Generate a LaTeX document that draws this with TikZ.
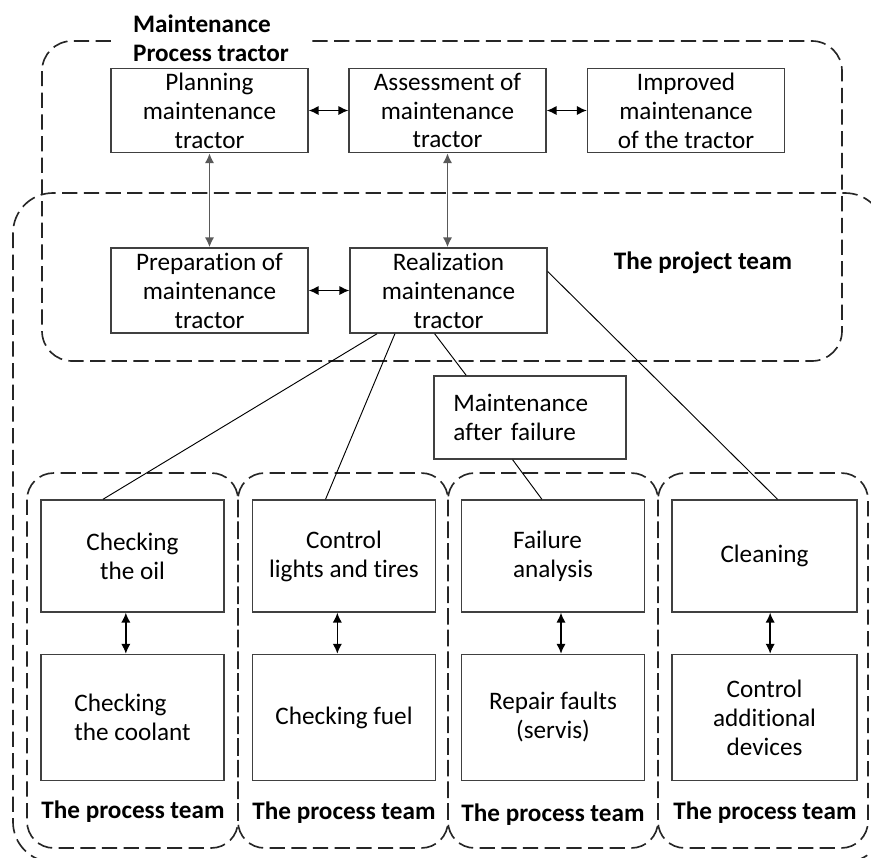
\documentclass[tikz,border=0pt]{standalone}
\usepackage{fontspec}
\setmainfont{Carlito}[Ligatures=NoCommon]
\usetikzlibrary{positioning,calc,arrows.meta}

\newcommand{\diagfont}{\fontsize{21.5}{24.7}\selectfont}

\tikzset{
  box/.style={draw=black!75, line width=1.2pt, fill=white, align=center, inner sep=0pt},
  stage/.style={box, minimum width=5.91cm, minimum height=2.52cm},
  task/.style={box, minimum width=5.5cm, minimum height=3.36cm},
  subtask/.style={box, minimum width=5.5cm, minimum height=3.78cm},
  team/.style={draw=black!85, line width=1.4pt, dash pattern=on 13pt off 5.5pt},
  teamlabel/.style={font=\diagfont\bfseries, inner sep=0pt},
  both/.style={{Latex[length=8.5pt,width=8pt]}-{Latex[length=8.5pt,width=8pt]}, line width=1.2pt},
  link/.style={line width=0.8pt}
}

\begin{document}
\begin{tikzpicture}[x=0.03cm, y=-0.03cm, font=\diagfont]
\useasboundingbox (0,0) rectangle (871,857);

% dashed groups
\begin{scope}
  \clip (0,0) rectangle (871,857);
  \draw[team, rounded corners=1.2cm] (13,193) rectangle (885,862);
\end{scope}
\draw[team, rounded corners=0.9cm] (42,41) rectangle (842,361);
\draw[team, rounded corners=0.8cm] (27,473) rectangle (238,848);
\draw[team, rounded corners=0.8cm] (238,473) rectangle (448,848);
\draw[team, rounded corners=0.8cm] (448,473) rectangle (658,848);
\draw[team, rounded corners=0.8cm] (658,473) rectangle (868,848);

% project level
\node[stage] (plan) at (209.5,110.5) {Planning\\maintenance\\tractor};
\node[stage] (assess) at (447.5,110.5) {Assessment of\\maintenance\\tractor};
\node[stage] (improve) at (686,110.5) {Improved\\maintenance\\of the tractor};
\node[stage, minimum height=2.55cm] (prep) at (209.5,290.5) {Preparation of\\maintenance\\tractor};
\node[stage, minimum height=2.55cm] (real) at (448.5,290.5) {Realization\\maintenance\\tractor};
\node[box, minimum width=5.76cm, minimum height=2.49cm, text width=4.6cm, align=left] (after) at (530,417.5) {Maintenance\\after failure};

% process level
\node[task] (oil) at (132.5,556) {Checking\\the oil};
\node[subtask, below=1.23cm of oil, align=left] (cool) {Checking\\the coolant};
\node[task] (lights) at (344,556) {Control\\lights and tires};
\node[subtask, below=1.23cm of lights] (fuel) {Checking fuel};
\node[task, align=left] (fail) at (553,556) {Failure\\analysis};
\node[subtask, below=1.23cm of fail] (repair) {Repair faults\\(servis)};
\node[task, minimum width=5.55cm] (clean) at (764.5,556) {Cleaning};
\node[subtask, minimum width=5.55cm, below=1.23cm of clean] (devices) {Control\\additional\\devices};

% labels
\node[teamlabel, fill=white, inner xsep=0.55cm, inner ysep=0.05cm, align=left] (title) at (211,38) {Maintenance\\Process tractor};
\node[teamlabel] (project) at (703,263) {The project team};
\node[teamlabel] (team1) at (133,812) {The process team};
\node[teamlabel] (team2) at (344,813) {The process team};
\node[teamlabel] (team3) at (553,815) {The process team};
\node[teamlabel] (team4) at (765,813) {The process team};

% arrows
\draw[both] (plan) -- (assess);
\draw[both] (assess) -- (improve);
\draw[both] (prep) -- (real);
\draw[both, draw=black!65, line width=1.6pt] (plan) -- (prep);
\draw[both, draw=black!65, line width=1.6pt] (assess.south) -- (assess.south |- real.north);
\foreach \a/\b/\s in {oil/cool/-0.2, lights/fuel/-0.2, fail/repair/0.24, clean/devices/0.17}
  \draw[both] ([xshift=\s cm]\a.south) -- ([xshift=\s cm]\b.north);

% links from realization
\draw[link] ($(real.south west)!0.14!(real.south east)$) -- ($(oil.north west)!0.34!(oil.north east)$);
\draw[link] ($(real.south west)!0.23!(real.south east)$) -- ($(lights.north west)!0.40!(lights.north east)$);
\draw[link] ($(real.south west)!0.43!(real.south east)$) -- ($(after.north west)!0.17!(after.north east)$);
\draw[link] ($(after.south west)!0.41!(after.south east)$) -- ($(fail.north west)!0.44!(fail.north east)$);
\draw[link] ($(real.north east)!0.28!(real.south east)$) -- ($(clean.north west)!0.57!(clean.north east)$);
\end{tikzpicture}
\end{document}
